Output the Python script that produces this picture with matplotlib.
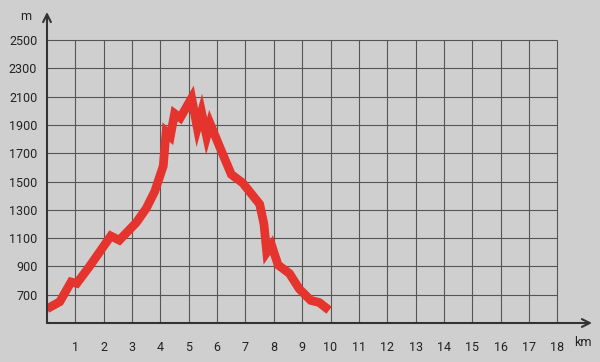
import numpy as np
import matplotlib.pyplot as plt

plt.rcParams['font.family'] = ['Roboto', 'DejaVu Sans']

dist_km = [0, 0.45, 0.85, 1.05, 1.5, 2.25, 2.55, 3.15, 3.5, 3.8, 4.1, 4.2, 4.35,
           4.5, 4.7, 5.1, 5.3, 5.45, 5.63, 5.75, 6.1, 6.5, 6.9, 7.5, 7.65, 7.75,
           7.92, 8.15, 8.55, 8.9, 9.3, 9.6, 9.95]
elev_m = [600, 650, 790, 780, 900, 1115, 1085, 1210, 1310, 1430, 1610, 1850, 1820,
          1980, 1950, 2090, 1880, 1990, 1820, 1910, 1740, 1550, 1490, 1340, 1200, 1000,
          1050, 910, 850, 740, 660, 645, 590]

x_ticks = list(range(1, 19))
y_ticks = list(range(700, 2501, 200))

bg = '#cfcfcf'
fig = plt.figure(figsize=(6, 3.62), dpi=100, facecolor=bg)
ax = fig.add_axes([47/600, 39/362, 545/600, 311/362])
ax.set_facecolor(bg)
ax.set_xlim(0, 19.22)
ax.set_ylim(500, 2698)

# grid limited to 0..18 km and 500..2500 m
ax.hlines(y_ticks, 0, 18, color='#555555', lw=0.8, zorder=1)
ax.vlines(x_ticks, 500, 2500, color='#555555', lw=0.8, zorder=1)

ax.plot(dist_km, elev_m, color='#e5332d', lw=6.3, solid_joinstyle='miter',
        solid_capstyle='butt', zorder=3)

for s in ax.spines.values():
    s.set_visible(False)

# axes with arrows
ax.annotate('', xy=(1.0, 0), xycoords='axes fraction', xytext=(0, 0),
            arrowprops=dict(arrowstyle='->', color='#333333', lw=1.5,
                            mutation_scale=14, shrinkA=0, shrinkB=0))
ax.annotate('', xy=(0, 1.0), xycoords='axes fraction', xytext=(0, 0),
            arrowprops=dict(arrowstyle='->', color='#333333', lw=1.5,
                            mutation_scale=14, shrinkA=0, shrinkB=0))

ax.set_xticks(x_ticks)
ax.set_yticks(y_ticks)
ax.tick_params(axis='x', length=0, pad=13, labelsize=9, labelcolor='#222222')
ax.tick_params(axis='y', length=0, pad=7, labelsize=9, labelcolor='#222222')

fig.text(26/600, 1 - 17/362, 'm', ha='center', va='center', fontsize=9, color='#222222')
fig.text(583/600, 1 - 343/362, 'km', ha='center', va='center', fontsize=9, color='#222222')

plt.savefig('out.png', dpi=100, facecolor=bg)
